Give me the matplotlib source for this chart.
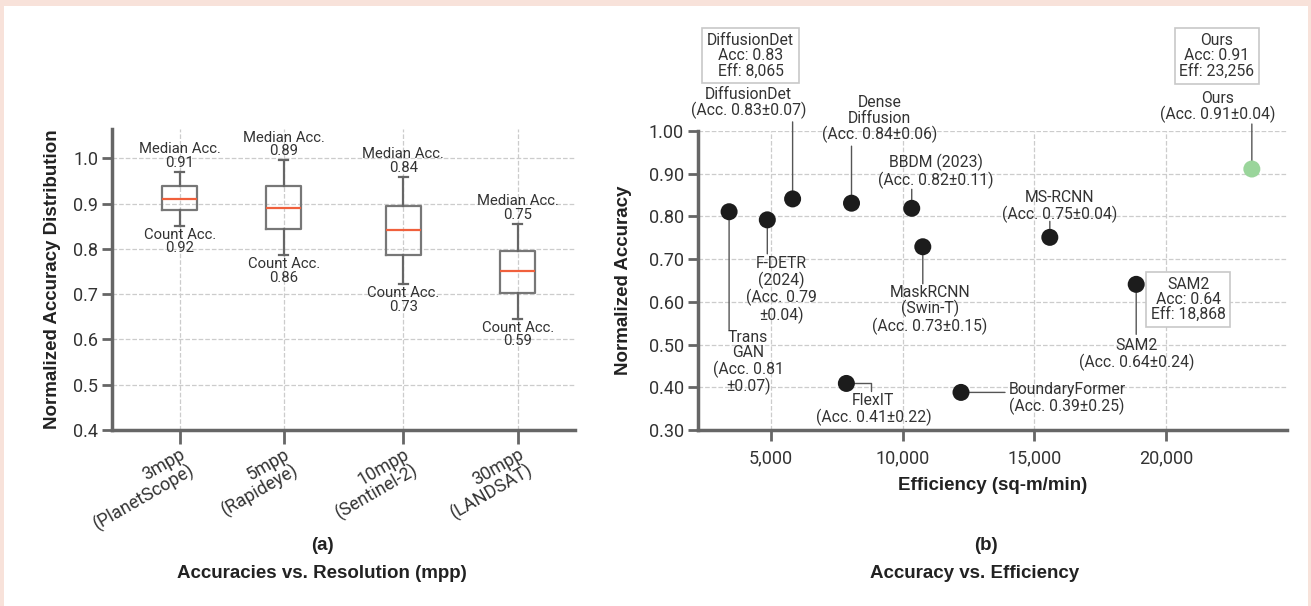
import matplotlib
matplotlib.use('Agg')
import matplotlib.pyplot as plt
from matplotlib.patches import Rectangle
from matplotlib.ticker import FuncFormatter, FormatStrFormatter

plt.rcParams['font.family'] = ['Roboto', 'DejaVu Sans']

# ---- panel (a): accuracy distribution per resolution ----
resolutions = ['3mpp\n(PlanetScope)', '5mpp\n(Rapideye)', '10mpp\n(Sentinel-2)', '30mpp\n(LANDSAT)']
whisker_low = [0.851, 0.786, 0.722, 0.646]
q1 = [0.885, 0.845, 0.787, 0.703]
median = [0.910, 0.891, 0.842, 0.751]
q3 = [0.940, 0.938, 0.894, 0.796]
whisker_high = [0.971, 0.996, 0.960, 0.856]
median_acc = [0.91, 0.89, 0.84, 0.75]
count_acc = [0.92, 0.86, 0.73, 0.59]

# ---- panel (b): accuracy vs efficiency ----
models = ['TransGAN', 'F-DETR', 'DiffusionDet', 'Dense Diffusion', 'BBDM', 'MaskRCNN',
          'MS-RCNN', 'Ours', 'SAM2', 'FlexIT', 'BoundaryFormer']
efficiency = [3420, 4870, 5830, 8065, 10350, 10770, 15590, 23256, 18868, 7870, 12220]
accuracy = [0.811, 0.792, 0.841, 0.831, 0.819, 0.729, 0.751, 0.911, 0.641, 0.409, 0.388]
labels = [
    'Trans\nGAN\n(Acc. 0.81\n±0.07)',
    'F-DETR\n(2024)\n(Acc. 0.79\n±0.04)',
    'DiffusionDet\n(Acc. 0.83±0.07)',
    'Dense\nDiffusion\n(Acc. 0.84±0.06)',
    'BBDM (2023)\n(Acc. 0.82±0.11)',
    'MaskRCNN\n(Swin-T)\n(Acc. 0.73±0.15)',
    'MS-RCNN\n(Acc. 0.75±0.04)',
    'Ours\n(Acc. 0.91±0.04)',
    'SAM2\n(Acc. 0.64±0.24)',
    'FlexIT\n(Acc. 0.41±0.22)',
    'BoundaryFormer\n(Acc. 0.39±0.25)',
]
boxed = {'DiffusionDet': 'DiffusionDet\nAcc: 0.83\nEff: 8,065',
         'Ours': 'Ours\nAcc: 0.91\nEff: 23,256',
         'SAM2': 'SAM2\nAcc: 0.64\nEff: 18,868'}

# layout (pixel offsets from the dot: text centre, line end, info box centre)
text_off = [(19, -151), (14, -70), (-44, 96), (28, 84), (24, 37), (7, -63),
            (10, 31), (-34, 62), (0, -70), (27, -26), (106, -6)]
line_off = [(0, -118), (0, -34), (0, 77), (0, 57), (0, 19), (0, -37),
            (0, 16), (0, 45), (0, -50), (25, -8), (44, 0)]
box_off = {'DiffusionDet': (-42, 143), 'Ours': (-35, 113), 'SAM2': (52, -15)}
box_pos = [1, 2, 3.15, 4.25]

SPINE = '#666666'
TXT = '#333333'
DARK = '#222222'
BOLD = dict(family=['Liberation Sans', 'DejaVu Sans'], fontweight='bold', fontsize=13.5,
            color=DARK)
GRID = dict(color='#cccccc', linestyle='--', linewidth=0.9)

fig = plt.figure(figsize=(13.11, 6.06), dpi=100, facecolor='#f8e2da')
fig.patches.append(Rectangle((4 / 1311, 0), 1304 / 1311, 600 / 606, transform=fig.transFigure,
                             facecolor='white', edgecolor='none', zorder=-1))


def style_axes(ax):
    for s in ['top', 'right']:
        ax.spines[s].set_visible(False)
    for s in ['left', 'bottom']:
        ax.spines[s].set_color(SPINE)
        ax.spines[s].set_linewidth(2.5)
    ax.set_facecolor('white')
    ax.tick_params(colors=SPINE, width=2, labelcolor=TXT, labelsize=13)
    ax.grid(True, **GRID)
    ax.set_axisbelow(True)


# ---------- (a) ----------
ax1 = fig.add_axes([112 / 1311, 1 - 430 / 606, 463 / 1311, 301 / 606])
style_axes(ax1)
stats = []
for i in range(len(resolutions)):
    stats.append(dict(whislo=whisker_low[i], q1=q1[i], med=median[i], q3=q3[i],
                      whishi=whisker_high[i], fliers=[]))
ax1.bxp(stats, positions=box_pos, widths=0.34, capwidths=0.09, showfliers=False,
        boxprops=dict(color='#777777', linewidth=1.6),
        whiskerprops=dict(color='#666666', linewidth=1.6),
        capprops=dict(color='#666666', linewidth=1.6),
        medianprops=dict(color='#f0603c', linewidth=1.6))
for i, p in enumerate(box_pos):
    ax1.annotate(f'Median Acc.\n{median_acc[i]:.2f}', (p, whisker_high[i]), xytext=(0, 2),
                 textcoords='offset pixels', ha='center', va='bottom', fontsize=10.7,
                 color=TXT, linespacing=0.95)
    ax1.annotate(f'Count Acc.\n{count_acc[i]:.2f}', (p, whisker_low[i]), xytext=(0, -2),
                 textcoords='offset pixels', ha='center', va='top', fontsize=10.7,
                 color=TXT, linespacing=0.95)
ax1.set_xlim(0.35, 4.8)
ax1.set_ylim(0.4, 1.065)
ax1.set_yticks([0.4, 0.5, 0.6, 0.7, 0.8, 0.9, 1.0])
ax1.yaxis.set_major_formatter(FormatStrFormatter('%.1f'))
ax1.set_xticks(box_pos)
ax1.set_xticklabels(resolutions, rotation=30, ha='right', va='top', rotation_mode='anchor',
                    fontsize=13, linespacing=1.0)
ax1.tick_params(axis='x', length=10, pad=1)
ax1.tick_params(axis='y', length=7, pad=3)
ax1.set_ylabel('Normalized Accuracy Distribution', labelpad=9, **BOLD)

# ---------- (b) ----------
ax2 = fig.add_axes([698 / 1311, 1 - 430 / 606, 589 / 1311, 299 / 606])
style_axes(ax2)
colors = ['#9ad59b' if m == 'Ours' else '#1c1c1c' for m in models]
ax2.scatter(efficiency, accuracy, s=150, c=colors, edgecolors='none', zorder=5)
for i, m in enumerate(models):
    x, y = efficiency[i], accuracy[i]
    cs = 'angle,angleA=90,angleB=0,rad=0' if m == 'FlexIT' else 'arc3'
    ax2.annotate('', xy=(x, y), xytext=line_off[i], textcoords='offset pixels',
                 arrowprops=dict(arrowstyle='-', color='#555555', lw=1,
                                 shrinkA=0, shrinkB=0, connectionstyle=cs))
    ax2.annotate(labels[i], (x, y), xytext=text_off[i], textcoords='offset pixels',
                 ha='center', va='center', fontsize=11.3, color=TXT, linespacing=1.02,
                 annotation_clip=False)
    if m in boxed:
        ax2.annotate(boxed[m], (x, y), xytext=box_off[m], textcoords='offset pixels',
                     ha='center', va='center', fontsize=11.3, color=TXT, linespacing=1.02,
                     annotation_clip=False,
                     bbox=dict(boxstyle='square,pad=0.3', facecolor='white',
                               edgecolor='#c8c8c8', linewidth=1.2))
ax2.set_xlim(2240, 24590)
ax2.set_ylim(0.3, 1.0)
ax2.set_xticks([5000, 10000, 15000, 20000])
ax2.xaxis.set_major_formatter(FuncFormatter(lambda v, p: f'{int(v):,}'))
ax2.set_yticks([0.3, 0.4, 0.5, 0.6, 0.7, 0.8, 0.9, 1.0])
ax2.yaxis.set_major_formatter(FormatStrFormatter('%.2f'))
ax2.tick_params(axis='x', length=8, pad=6)
ax2.tick_params(axis='y', length=7, pad=3)
ax2.set_xlabel('Efficiency (sq-m/min)', labelpad=7, **BOLD)
ax2.set_ylabel('Normalized Accuracy', labelpad=12, **BOLD)

# panel captions
fig.text(322 / 1311, 1 - 545 / 606, '(a)', ha='center', va='center', **BOLD)
fig.text(322 / 1311, 1 - 573 / 606, 'Accuracies vs. Resolution (mpp)', ha='center',
         va='center', **BOLD)
fig.text(986 / 1311, 1 - 545 / 606, '(b)', ha='center', va='center', **BOLD)
fig.text(975 / 1311, 1 - 573 / 606, 'Accuracy vs. Efficiency', ha='center', va='center',
         **BOLD)

fig.savefig('out.png', dpi=100, facecolor=fig.get_facecolor())
